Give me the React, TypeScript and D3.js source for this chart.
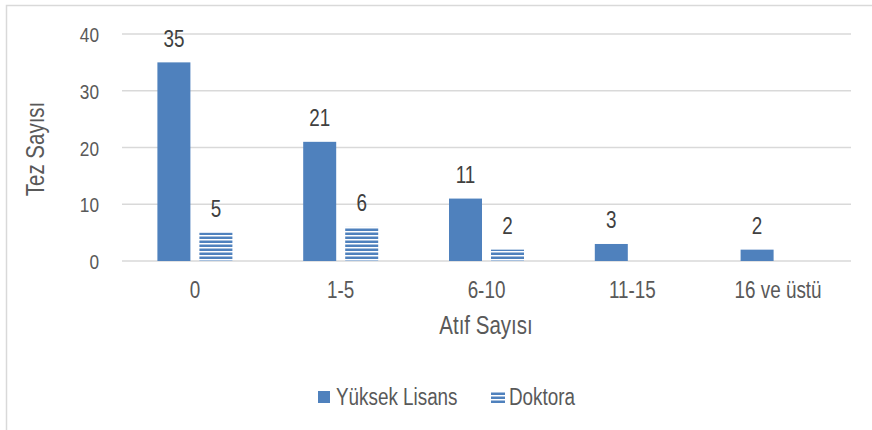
import React from "react";
import * as d3 from "d3";

const categories = ["0", "1-5", "6-10", "11-15", "16 ve üstü"];
const yuksekLisans = [35, 21, 11, 3, 2];
const doktora: (number | null)[] = [5, 6, 2, null, null];
const yTicks = [0, 10, 20, 30, 40];

const W = 872;
const H = 430;
const FONT = "'Liberation Sans', Arial, sans-serif";
const TEXT = "#595959";
const BLUE = "#4F81BD";
const SX = 0.82;

function NText(props: {
  x: number;
  y: number;
  size: number;
  anchor?: "start" | "middle" | "end";
  fill?: string;
  rotate?: number;
  children: React.ReactNode;
}) {
  const { x, y, size, anchor = "start", fill = TEXT, rotate = 0, children } = props;
  return (
    <text
      transform={`translate(${x},${y}) rotate(${rotate}) scale(${SX},1)`}
      textAnchor={anchor}
      fontFamily={FONT}
      fontSize={size}
      fill={fill}
    >
      {children}
    </text>
  );
}

export default function App() {
  const x = d3.scaleBand().domain(categories).range([122, 851]);
  const y = d3.scaleLinear().domain([0, 40]).range([261, 34]);
  const barW = 33;
  const gap = 9;
  return (
    <svg width={W} height={H} style={{ position: "absolute", left: 0, top: 0, background: "#fff" }}>
      <defs>
        <pattern id="hstripe" patternUnits="userSpaceOnUse" width={8} height={4}>
          <rect x={0} y={0} width={8} height={4} fill="#fff" />
          <rect x={0} y={0.5} width={8} height={2.5} fill={BLUE} />
        </pattern>
      </defs>
      <rect x={0} y={0} width={W} height={H} fill="#fff" />
      <rect x={6.5} y={5.5} width={W + 20} height={H + 20} fill="none" stroke="#D9D9D9" strokeWidth={1.5} />
      {yTicks.map((t) => (
        <g key={t}>
          <line x1={122} x2={851} y1={y(t)} y2={y(t)} stroke="#D9D9D9" strokeWidth={1.3} />
          <NText x={99} y={y(t) + 8} size={21} anchor="end">
            {t}
          </NText>
        </g>
      ))}
      {categories.map((c, i) => {
        const cx = (x(c) as number) + x.bandwidth() / 2;
        const v1 = yuksekLisans[i];
        const v2 = doktora[i];
        const x1 = cx - gap / 2 - barW;
        const x2 = cx + gap / 2;
        return (
          <g key={c}>
            <rect x={x1} y={y(v1)} width={barW} height={y(0) - y(v1)} fill={BLUE} />
            <NText x={x1 + barW / 2} y={y(v1) - 15.5} size={23} anchor="middle" fill="#404040">
              {v1}
            </NText>
            {v2 != null && (
              <>
                <rect x={x2} y={y(v2)} width={barW} height={y(0) - y(v2)} fill="url(#hstripe)" />
                <NText x={x2 + barW / 2} y={y(v2) - 16} size={23} anchor="middle" fill="#404040">
                  {v2}
                </NText>
              </>
            )}
            <NText x={cx} y={298} size={23} anchor="middle">
              {c}
            </NText>
          </g>
        );
      })}
      <NText x={44} y={149} size={25} anchor="middle" rotate={-90}>
        Tez Sayısı
      </NText>
      <NText x={486} y={334} size={25} anchor="middle">
        Atıf Sayısı
      </NText>
      <rect x={318} y={391} width={12} height={12} fill={BLUE} />
      <NText x={336} y={405} size={23}>
        Yüksek Lisans
      </NText>
      <rect x={491} y={391} width={14} height={12} fill="url(#hstripe)" />
      <NText x={509} y={405} size={23}>
        Doktora
      </NText>
    </svg>
  );
}
